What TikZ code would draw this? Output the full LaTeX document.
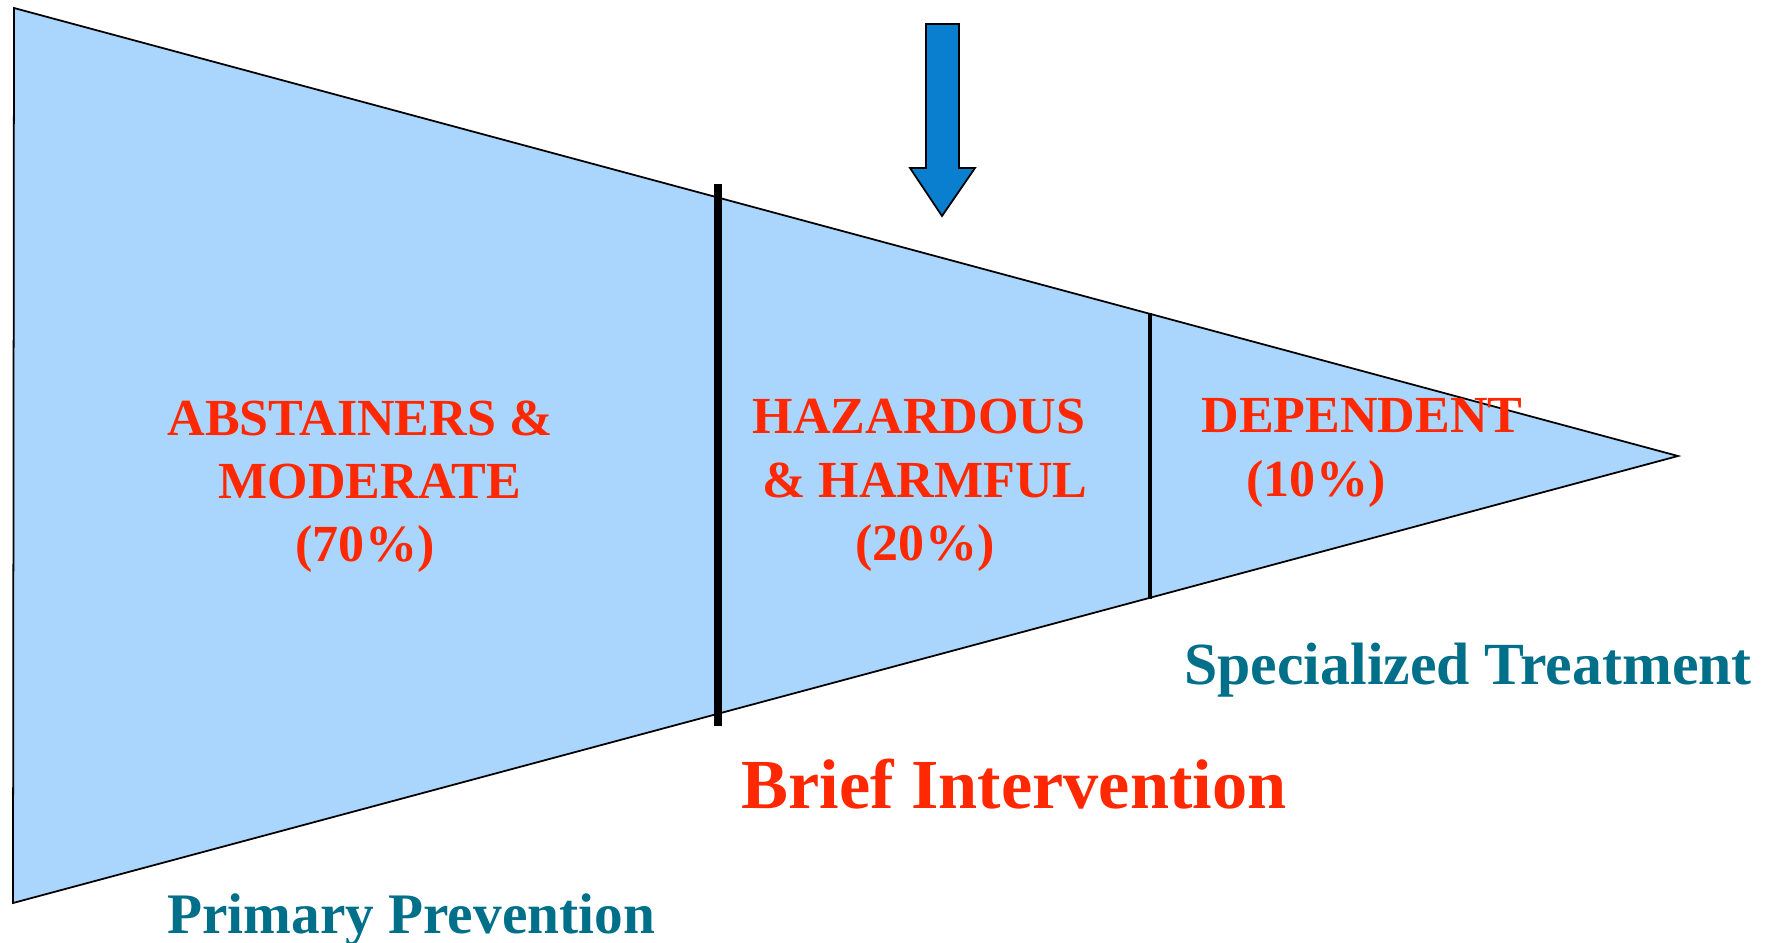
\documentclass[tikz,border=0pt]{standalone}
\usepackage{fontspec}
\setmainfont{Liberation Serif}
\definecolor{funnelblue}{RGB}{170,213,253}
\definecolor{arrowblue}{RGB}{10,127,208}
\definecolor{labelred}{RGB}{255,40,0}
\definecolor{labelteal}{RGB}{0,112,138}
\begin{document}
\begin{tikzpicture}[x=0.01cm, y=-0.01cm,
  group/.style={anchor=base, inner sep=0pt, text=labelred, font=\fontsize{14.8}{18}\selectfont\bfseries},
  stage/.style={anchor=base, inner sep=0pt, text=labelteal, font=\fontsize{17}{20}\selectfont\bfseries}]
\useasboundingbox (0,0) rectangle (1773,942);
\clip (0,0) rectangle (1773,942);
\fill[white] (0,0) rectangle (1773,942);
% funnel
\coordinate (top) at (14,8);
\coordinate (bottom) at (13,903);
\coordinate (apex) at (1678,456);
\filldraw[fill=funnelblue, line width=0.5pt] (top) -- (apex) -- (bottom) -- cycle;
% dividers
\coordinate (d1top) at (718,184);
\coordinate (d1bot) at (718,726);
\coordinate (d2top) at (1150,313);
\coordinate (d2bot) at (1150,599);
\draw[line width=2.3pt] (d1top) -- (d1bot);
\draw[line width=1.4pt] (d2top) -- (d2bot);
% arrow
\filldraw[fill=arrowblue, line width=0.5pt] (926,24) -- (959,24) -- (959,168) -- (975,168)
  -- (942,216) -- (910,168) -- (926,168) -- cycle;
% groups
\node (g1a) at (360,435) [group] {ABSTAINERS \&};
\node (g1b) at (370,498) [group] {MODERATE};
\node (g1c) at (365,561) [group] {(70\%)};
\node (g2a) at (919,433) [group] {HAZARDOUS};
\node (g2b) at (925,497) [group] {\& HARMFUL};
\node (g2c) at (925,560) [group] {(20\%)};
\node (g3a) at (1362,432) [group] {DEPENDENT};
\node (g3b) at (1316,496) [group] {(10\%)};
% stages
\node (brief) at (1014,808) [group, font=\fontsize{20}{24}\selectfont\bfseries] {Brief Intervention};
\node (special) at (1468,684) [stage] {Specialized Treatment};
\node (primary) at (411,933) [stage, font=\fontsize{16.3}{20}\selectfont\bfseries] {Primary Prevention};
\end{tikzpicture}
\end{document}
